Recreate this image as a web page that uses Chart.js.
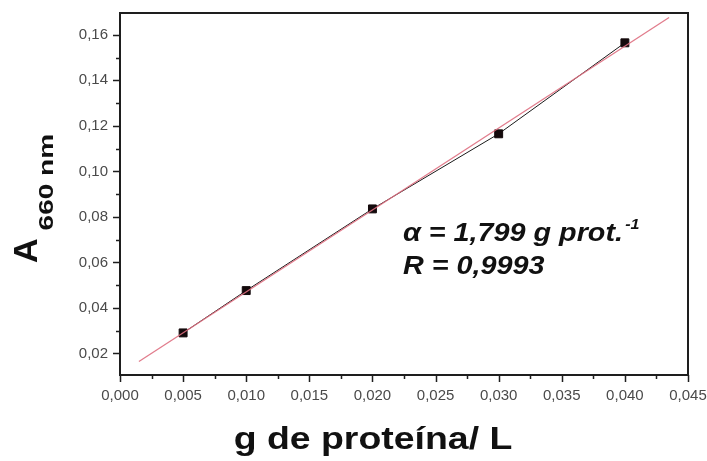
<!DOCTYPE html>
<html>
<head>
<meta charset="utf-8">
<script src="https://cdn.jsdelivr.net/npm/chart.js@4/dist/chart.umd.min.js"></script>
<style>
  html, body { margin: 0; padding: 0; background: #fff; }
  #wrap { width: 707px; height: 461px; }
</style>
</head>
<body>
<div id="wrap"><canvas id="c" width="707" height="461"></canvas></div>
<script>
// Calibration: protein concentration vs absorbance at 660 nm
const proteinConc = [0.005, 0.010, 0.020, 0.030, 0.040];
const absorbance  = [0.0290, 0.0476, 0.0835, 0.1165, 0.1565];

// x-extent of the fitted straight line
const fitRange = [0.0015, 0.0435];

const xTicks = [0, 0.005, 0.010, 0.015, 0.020, 0.025, 0.030, 0.035, 0.040, 0.045];
const yTicks = [0.02, 0.04, 0.06, 0.08, 0.10, 0.12, 0.14, 0.16];

const xTitle = 'g de proteína/ L';
const yTitleMain = 'A';
const yTitleSub = '660 nm';
const noteLine1 = 'α = 1,799 g prot.';
const noteSup = '-1';
const noteLine2 = 'R = 0,9993';

// least-squares line through the measured points
function linearFit(xs, ys) {
  const n = xs.length;
  const mx = xs.reduce((a, b) => a + b, 0) / n;
  const my = ys.reduce((a, b) => a + b, 0) / n;
  let sxy = 0, sxx = 0;
  for (let i = 0; i < n; i++) {
    sxy += (xs[i] - mx) * (ys[i] - my);
    sxx += (xs[i] - mx) * (xs[i] - mx);
  }
  const slope = sxy / sxx;
  return { slope, intercept: my - slope * mx };
}
const fit = linearFit(proteinConc, absorbance);
const fitPoints = fitRange.map(x => ({ x, y: fit.intercept + fit.slope * x }));
const measured = proteinConc.map((x, i) => ({ x, y: absorbance[i] }));

const FONT = '"Liberation Sans", Arial, Helvetica, sans-serif';

// frame, major/minor tick marks, titles and the fit note
const decorations = {
  id: 'decorations',
  afterDraw(chart) {
    const { ctx, chartArea: a, scales: { x, y } } = chart;
    ctx.save();
    ctx.strokeStyle = '#1e1e1e';
    ctx.lineWidth = 2;
    ctx.strokeRect(a.left, a.top, a.right - a.left, a.bottom - a.top);

    ctx.lineWidth = 1.5;
    ctx.beginPath();
    for (let i = 0; i < xTicks.length; i++) {
      const px = Math.round(x.getPixelForValue(xTicks[i])) + 0.5;
      ctx.moveTo(px, a.bottom); ctx.lineTo(px, a.bottom + 7);
      if (i < xTicks.length - 1) {
        const pm = Math.round(x.getPixelForValue((xTicks[i] + xTicks[i + 1]) / 2)) + 0.5;
        ctx.moveTo(pm, a.bottom); ctx.lineTo(pm, a.bottom + 4);
      }
    }
    for (let i = 0; i < yTicks.length; i++) {
      const py = Math.round(y.getPixelForValue(yTicks[i])) + 0.5;
      ctx.moveTo(a.left, py); ctx.lineTo(a.left - 7, py);
      const mid = yTicks[i] + 0.01;
      if (mid < y.max) {
        const pm = Math.round(y.getPixelForValue(mid)) + 0.5;
        ctx.moveTo(a.left, pm); ctx.lineTo(a.left - 4, pm);
      }
    }
    const firstMinor = yTicks[0] - 0.01;
    if (firstMinor > y.min) {
      const pm = Math.round(y.getPixelForValue(firstMinor)) + 0.5;
      ctx.moveTo(a.left, pm); ctx.lineTo(a.left - 4, pm);
    }
    ctx.stroke();

    ctx.fillStyle = '#111';
    ctx.textBaseline = 'alphabetic';

    // x title (wide lettering)
    ctx.save();
    ctx.translate(a.left + 253, 449);
    ctx.scale(1.17, 1);
    ctx.textAlign = 'center';
    ctx.font = 'bold 32px ' + FONT;
    ctx.fillText(xTitle, 0, 0);
    ctx.restore();

    // y title, rotated, with subscript
    ctx.save();
    ctx.translate(37, 263);
    ctx.rotate(-Math.PI / 2);
    ctx.textAlign = 'left';
    ctx.font = 'bold 34px ' + FONT;
    ctx.fillText(yTitleMain, 0, 0);
    const wA = ctx.measureText(yTitleMain).width;
    ctx.translate(wA + 8, 16);
    ctx.scale(1.4, 1);
    ctx.font = 'bold 20px ' + FONT;
    ctx.fillText(yTitleSub, 0, 0);
    ctx.restore();

    // fit note (wide lettering)
    ctx.save();
    ctx.translate(403, 0);
    ctx.scale(1.15, 1);
    ctx.textAlign = 'left';
    ctx.font = 'italic bold 25px ' + FONT;
    ctx.fillText(noteLine1, 0, 241);
    const w1 = ctx.measureText(noteLine1).width;
    ctx.font = 'italic bold 14px ' + FONT;
    ctx.fillText(noteSup, w1 + 2, 229);
    ctx.font = 'italic bold 25px ' + FONT;
    ctx.fillText(noteLine2, 0, 274);
    ctx.restore();
    ctx.restore();
  }
};

new Chart(document.getElementById('c'), {
  type: 'scatter',
  data: {
    datasets: [
      {
        label: 'medido',
        data: measured,
        showLine: true,
        borderColor: '#1a1a1a',
        borderWidth: 1,
        pointStyle: 'rect',
        pointRadius: 5.6,
        pointBackgroundColor: '#140a0c',
        pointBorderColor: '#140a0c',
        order: 2
      },
      {
        label: 'ajuste',
        data: fitPoints,
        showLine: true,
        borderColor: 'rgba(222, 110, 128, 0.9)',
        borderWidth: 1.3,
        pointRadius: 0,
        order: 1
      }
    ]
  },
  options: {
    responsive: false,
    animation: false,
    devicePixelRatio: 1,
    layout: { padding: { left: 0, top: 13, right: 19, bottom: 0 } },
    plugins: {
      legend: { display: false },
      tooltip: { enabled: false }
    },
    scales: {
      x: {
        type: 'linear',
        min: 0,
        max: 0.045,
        afterBuildTicks: s => { s.ticks = xTicks.map(v => ({ value: v })); },
        afterFit: s => { s.height = 86; s.paddingLeft = 0; s.paddingRight = 0; },
        grid: { display: false, drawTicks: false },
        border: { display: false },
        ticks: {
          padding: 12,
          maxRotation: 0,
          autoSkip: false,
          color: '#4a4a4a',
          font: { family: FONT, size: 15 },
          callback: v => v.toFixed(3).replace('.', ',')
        }
      },
      y: {
        type: 'linear',
        min: 0.0105,
        max: 0.1696,
        afterBuildTicks: s => { s.ticks = yTicks.map(v => ({ value: v })); },
        afterFit: s => { s.width = 120; s.paddingTop = 0; s.paddingBottom = 0; },
        grid: { display: false, drawTicks: false },
        border: { display: false },
        ticks: {
          padding: 12,
          autoSkip: false,
          color: '#4a4a4a',
          font: { family: FONT, size: 15 },
          callback: v => v.toFixed(2).replace('.', ',')
        }
      }
    }
  },
  plugins: [decorations]
});
</script>
</body>
</html>
